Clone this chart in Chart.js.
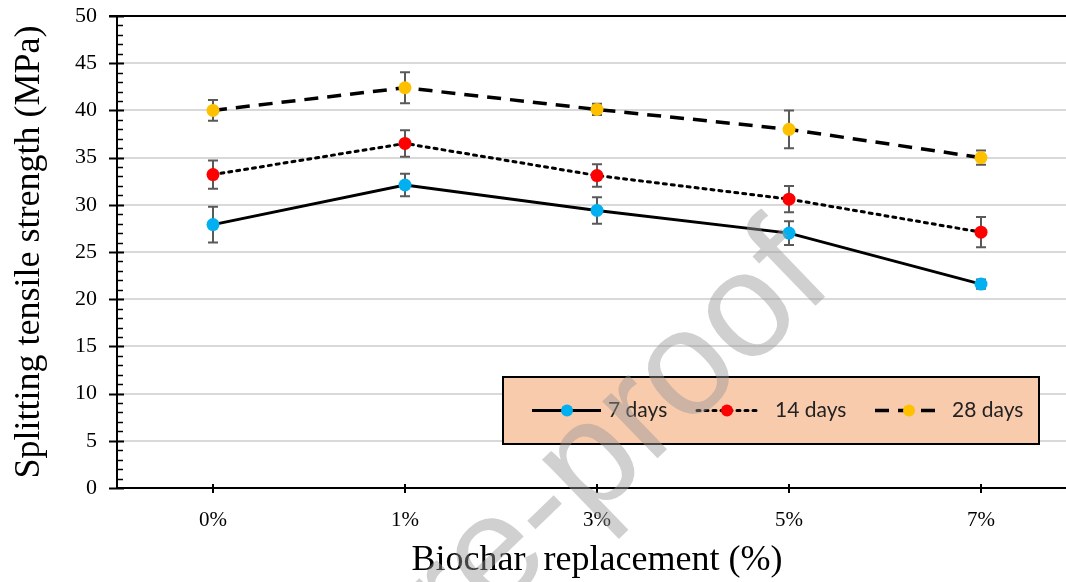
<!DOCTYPE html>
<html>
<head>
<meta charset="utf-8">
<script src="https://cdn.jsdelivr.net/npm/chart.js@4.4.1/dist/chart.umd.min.js"></script>
<style>
  body { margin: 0; background: #fff; overflow: hidden; }
  #wrap { width: 1084px; height: 582px; }
</style>
</head>
<body>
<div id="wrap"><canvas id="myChart" width="1084" height="582"></canvas></div>
<script>
// data
const categorias = ['0%', '1%', '3%', '5%', '7%']
const dias7 = [27.9, 32.1, 29.4, 27.0, 21.6]
const erro7 = [1.9, 1.2, 1.4, 1.25, 0.5]
const dias14 = [33.2, 36.5, 33.1, 30.6, 27.1]
const erro14 = [1.5, 1.4, 1.2, 1.4, 1.6]
const dias28 = [40.0, 42.4, 40.1, 38.0, 35.0]
const erro28 = [1.1, 1.65, 0.6, 2.0, 0.75]
const legendas = ['7 days', '14 days', '28 days']
const yMin = 0, yMax = 50, yPasso = 5

const serif = '"Liberation Serif", "Times New Roman", serif'

// error bars, axis ticks, top border, legend, watermark
const extras = {
    id: 'extras',
    beforeDatasetsDraw(chart) {
        const ctx = chart.ctx
        const x = chart.scales.x, y = chart.scales.y
        ctx.save()
        ctx.strokeStyle = '#595959'
        ctx.lineWidth = 2
        chart.data.datasets.forEach(ds => {
            ds.erros.forEach((e, i) => {
                const px = x.getPixelForValue(i)
                const top = y.getPixelForValue(ds.data[i] + e)
                const bot = y.getPixelForValue(ds.data[i] - e)
                ctx.beginPath()
                ctx.moveTo(px, top); ctx.lineTo(px, bot)
                ctx.moveTo(px - 5, top); ctx.lineTo(px + 5, top)
                ctx.moveTo(px - 5, bot); ctx.lineTo(px + 5, bot)
                ctx.stroke()
            })
        })
        ctx.restore()
    },
    afterDraw(chart) {
        const ctx = chart.ctx
        const area = chart.chartArea
        const x = chart.scales.x, y = chart.scales.y
        ctx.save()
        ctx.strokeStyle = '#000'
        // top border
        ctx.lineWidth = 2
        ctx.beginPath()
        ctx.moveTo(area.left - 8, area.top); ctx.lineTo(area.right, area.top)
        ctx.stroke()
        // y ticks (major + minor)
        for (let v = yMin; v <= yMax; v++) {
            const py = Math.round(y.getPixelForValue(v)) + 0.5
            ctx.beginPath()
            if (v % yPasso === 0) {
                ctx.lineWidth = 2
                ctx.moveTo(area.left - 8, py); ctx.lineTo(area.left + 7, py)
            } else {
                ctx.lineWidth = 1.5
                ctx.moveTo(area.left, py); ctx.lineTo(area.left + 6, py)
            }
            ctx.stroke()
        }
        // x ticks
        ctx.lineWidth = 2
        categorias.forEach((c, i) => {
            const px = x.getPixelForValue(i)
            ctx.beginPath()
            ctx.moveTo(px, area.bottom - 4); ctx.lineTo(px, area.bottom + 5)
            ctx.stroke()
        })

        // legend box
        const lx = 503, ly = 377, lw = 536, lh = 67
        ctx.fillStyle = '#F8CBAD'
        ctx.fillRect(lx, ly, lw, lh)
        ctx.lineWidth = 2
        ctx.strokeStyle = '#000'
        ctx.strokeRect(lx, ly, lw, lh)
        // [line start, line end, marker, text]
        const amostras = [[532, 601, 567, 608], [697, 757, 727, 775], [875, 943, 909, 952]]
        const cy = ly + lh / 2
        chart.data.datasets.forEach((ds, i) => {
            const a = amostras[i]
            ctx.save()
            ctx.strokeStyle = ds.borderColor
            ctx.lineWidth = ds.borderWidth
            ctx.setLineDash(ds.borderDash || [])
            ctx.lineCap = ds.borderCapStyle || 'butt'
            ctx.beginPath()
            ctx.moveTo(a[0], cy); ctx.lineTo(a[1], cy)
            ctx.stroke()
            ctx.restore()
            ctx.fillStyle = ds.pointBackgroundColor
            ctx.beginPath()
            ctx.arc(a[2], cy, 6, 0, Math.PI * 2)
            ctx.fill()
            ctx.fillStyle = '#222'
            ctx.font = '21px Lato, "Open Sans", sans-serif'
            ctx.textBaseline = 'middle'
            ctx.textAlign = 'left'
            ctx.fillText(ds.label, a[3], cy)
        })

        // watermark
        ctx.translate(836, 286)
        ctx.rotate(-44 * Math.PI / 180)
        ctx.fillStyle = 'rgba(150, 150, 150, 0.45)'
        ctx.font = '150px "Liberation Sans", Arial, sans-serif'
        ctx.textAlign = 'right'
        ctx.textBaseline = 'alphabetic'
        ctx.fillText('Journal Pre-proof', 0, 0)
        ctx.restore()
    }
}

document.addEventListener('DOMContentLoaded', function () {
    const ctx = document.getElementById('myChart').getContext('2d')

    const myChart = new Chart(ctx, {
        type: 'line',
        data: {
            labels: categorias,
            datasets: [{
                label: legendas[0],
                data: dias7,
                erros: erro7,
                borderColor: '#000',
                borderWidth: 3,
                pointBackgroundColor: '#00B0F0',
                pointBorderWidth: 0,
                pointRadius: 6.5,
                tension: 0
            }, {
                label: legendas[1],
                data: dias14,
                erros: erro14,
                borderColor: '#000',
                borderWidth: 3,
                borderDash: [3, 5],
                borderCapStyle: 'round',
                pointBackgroundColor: '#FF0000',
                pointBorderWidth: 0,
                pointRadius: 6.5,
                tension: 0
            }, {
                label: legendas[2],
                data: dias28,
                erros: erro28,
                borderColor: '#000',
                borderWidth: 3.5,
                borderDash: [14, 9],
                pointBackgroundColor: '#FFC000',
                pointBorderWidth: 0,
                pointRadius: 6.5,
                tension: 0
            }]
        },
        options: {
            responsive: false,
            animation: false,
            devicePixelRatio: 1,
            layout: { padding: { top: 16, right: 7, left: 0, bottom: 0 } },
            plugins: {
                legend: { display: false },
                tooltip: { enabled: false }
            },
            scales: {
                x: {
                    offset: true,
                    afterFit: s => {
                        s.height = 94
                        s.paddingLeft = 0
                        s.paddingRight = 0
                    },
                    grid: { display: false },
                    border: { color: '#000', width: 2 },
                    ticks: {
                        color: '#000',
                        padding: 12,
                        font: { family: serif, size: 21 }
                    },
                    title: {
                        display: true,
                        text: 'Biochar  replacement (%)',
                        color: '#000',
                        font: { family: serif, size: 36 },
                        padding: { top: 0, bottom: 0 }
                    }
                },
                y: {
                    min: yMin,
                    max: yMax,
                    afterFit: s => {
                        s.width = 117
                        s.paddingTop = 0
                        s.paddingBottom = 0
                    },
                    grid: {
                        color: c => (c.tick && c.tick.value === yMax) ? '#000' : '#d9d9d9',
                        lineWidth: 2,
                        drawTicks: false
                    },
                    border: { color: '#000', width: 2 },
                    ticks: {
                        stepSize: yPasso,
                        color: '#000',
                        padding: 20,
                        font: { family: serif, size: 22 }
                    },
                    title: {
                        display: true,
                        text: 'Splitting tensile strength (MPa)',
                        color: '#000',
                        font: { family: serif, size: 36 },
                        padding: { top: 8, bottom: 0 }
                    }
                }
            }
        },
        plugins: [extras]
    })
})
</script>
</body>
</html>
